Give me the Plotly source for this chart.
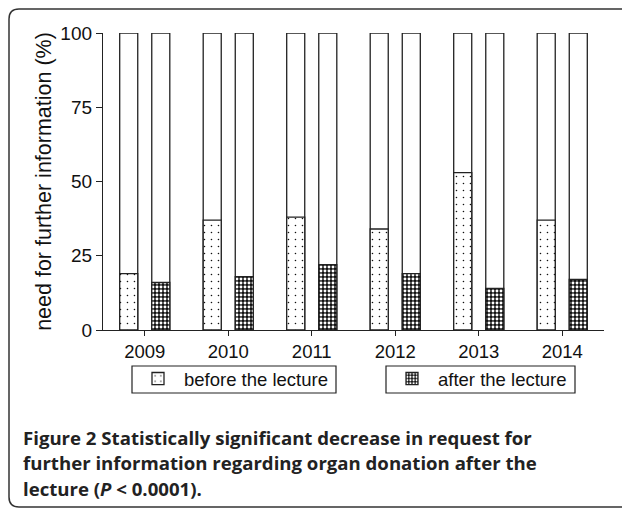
import plotly.graph_objects as go

years = ["2009", "2010", "2011", "2012", "2013", "2014"]
before_lecture = [19, 37, 38, 34, 53, 37]
after_lecture = [16, 18, 22, 19, 14, 17]
total = [100, 100, 100, 100, 100, 100]
y_ticks = [0, 25, 50, 75, 100]

# the page puts the figure 8px in from the corner; targets below are page pixels
OFF = 8
W, H = 630, 508
PL, PR, PT, PB = 103, 604, 33, 330          # plot area on the page
L, R, T = PL - OFF, W - (PR - OFF), PT - OFF
B = H - (PB - OFF)
PW, PH = PR - PL, PB - PT


def px(x):
    return (x - PL) / PW


def py(y):
    return (PB - y) / PH


fig = go.Figure()

bar_w = 0.216
offsets = {"before": -0.3, "after": 0.084}
line = dict(color="#222", width=1.3)

for key, vals, name, pat, leg in [
    ("before", before_lecture, "before the lecture",
     dict(shape=".", size=7, solidity=0.04, fgcolor="#111", bgcolor="white", fillmode="replace"), "legend"),
    ("after", after_lecture, "after the lecture",
     dict(shape=".", size=4, solidity=0.42, fgcolor="white", bgcolor="#111", fillmode="replace"), "legend2"),
]:
    fig.add_trace(go.Bar(x=years, y=total, width=bar_w, offset=offsets[key],
                         marker=dict(color="white", line=line),
                         showlegend=False, hoverinfo="skip"))
    fig.add_trace(go.Bar(x=years, y=vals, width=bar_w, offset=offsets[key], name=name,
                         marker=dict(color="white", pattern=pat, line=line),
                         legend=leg))

# rounded frame round the figure
r = 10
x0, y0, x1, y1 = 9, 9, 632, 507
path = (f"M {px(x0)},{py(y1 - r)} L {px(x0)},{py(y0 + r)} "
        f"Q {px(x0)},{py(y0)} {px(x0 + r)},{py(y0)} "
        f"L {px(x1 - r)},{py(y0)} Q {px(x1)},{py(y0)} {px(x1)},{py(y0 + r)} "
        f"L {px(x1)},{py(y1 - r)} Q {px(x1)},{py(y1)} {px(x1 - r)},{py(y1)} "
        f"L {px(x0 + r)},{py(y1)} Q {px(x0)},{py(y1)} {px(x0)},{py(y1 - r)}")
fig.add_shape(type="path", path=path, xref="paper", yref="paper",
              line=dict(color="#333", width=1.5))

# legend boxes
for bx0, bx1 in [(132, 336), (386, 575)]:
    fig.add_shape(type="rect", xref="paper", yref="paper",
                  x0=px(bx0), x1=px(bx1), y0=py(366), y1=py(393),
                  line=dict(color="#222", width=1.2))

caption = [
    "<b>Figure 2</b> <b>Statistically significant decrease in request for</b>",
    "<b>further information regarding organ donation after the</b>",
    "<b>lecture (<i>P</i> &lt; 0.0001).</b>",
]
for i, txt in enumerate(caption):
    fig.add_annotation(text=txt, xref="paper", yref="paper", x=px(21), y=py(437 + 25.5 * i),
                       xanchor="left", yanchor="middle", showarrow=False,
                       font=dict(family="Open Sans", size=18.6, color="#222"))

leg_style = dict(orientation="h", yanchor="middle", xanchor="left", bgcolor="rgba(0,0,0,0)",
                 borderwidth=0, itemwidth=42,
                 font=dict(family="Liberation Sans, Arial", size=18.5, color="#111"))
fig.update_layout(
    width=W, height=H,
    margin=dict(l=L, r=R, t=T, b=B),
    paper_bgcolor="white", plot_bgcolor="white",
    barmode="overlay",
    font=dict(family="Liberation Sans, Arial", size=18, color="#111"),
    legend=dict(x=px(132), y=py(379), **leg_style),
    legend2=dict(x=px(386), y=py(379), **leg_style),
    xaxis=dict(range=[-0.5, 5.5], showline=True, linecolor="#222", linewidth=1.3,
               ticks="outside", ticklen=5, tickcolor="#222", tickwidth=1.3,
               showgrid=False, zeroline=False, tickfont=dict(size=18.5)),
    yaxis=dict(range=[0, 100], tickvals=y_ticks, showline=True, linecolor="#222", linewidth=1.3,
               ticks="outside", ticklen=6, tickcolor="#222", tickwidth=1.3,
               showgrid=False, zeroline=False, tickfont=dict(size=19),
               title=dict(text="need for further information (%)", font=dict(size=21.5), standoff=2)),
)

fig.write_html("out.html")
